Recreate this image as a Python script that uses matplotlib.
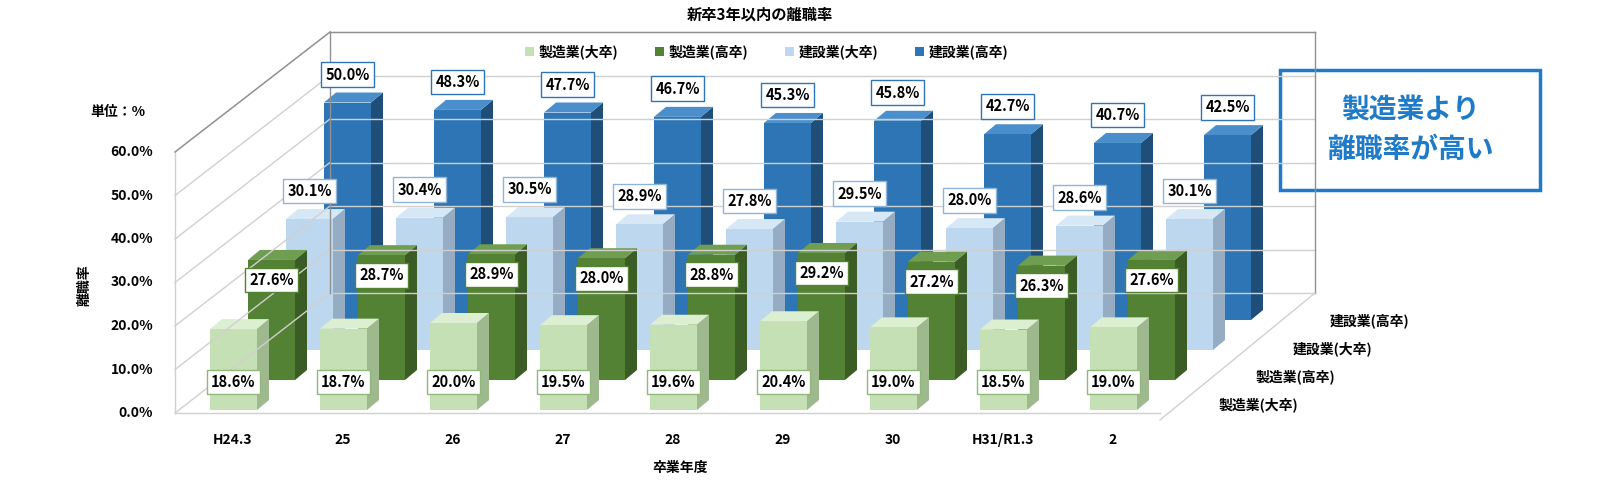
import matplotlib.pyplot as plt
from matplotlib.patches import Polygon, Rectangle

plt.rcParams["font.family"] = "Noto Sans CJK JP"
plt.rcParams["font.weight"] = "bold"

years = ["H24.3", "25", "26", "27", "28", "29", "30", "H31/R1.3", "2"]
series = ["製造業(大卒)", "製造業(高卒)", "建設業(大卒)", "建設業(高卒)"]
mfg_univ = [18.6, 18.7, 20.0, 19.5, 19.6, 20.4, 19.0, 18.5, 19.0]
mfg_high = [27.6, 28.7, 28.9, 28.0, 28.8, 29.2, 27.2, 26.3, 27.6]
con_univ = [30.1, 30.4, 30.5, 28.9, 27.8, 29.5, 28.0, 28.6, 30.1]
con_high = [50.0, 48.3, 47.7, 46.7, 45.3, 45.8, 42.7, 40.7, 42.5]
values = [mfg_univ, mfg_high, con_univ, con_high]

front = ["#c5e0b4", "#548235", "#bdd7ee", "#2e75b6"]
side = ["#9fb98f", "#3b5c25", "#95acc2", "#1f4e79"]
top = ["#dcefd0", "#6f9e50", "#d6e7f6", "#4a8fcc"]
edge = ["#8fb87a", "#548235", "#8fb4d9", "#2e75b6"]

fig = plt.figure(figsize=(16, 4.91), dpi=100)
ax = fig.add_axes([0, 0, 1, 1])
ax.set_xlim(0, 1600)
ax.set_ylim(491, 0)
ax.axis("off")

# pseudo-3D frame
Y0, SC = 413, 4.35          # floor front y, px per %
DX, DY = 155, -120          # full depth offset
X0, X1 = 175, 1160
grid = "#d0d0d0"
for t in range(0, 61, 10):
    yf = Y0 - t * SC
    ax.plot([X0, X0 + DX], [yf, yf + DY], color=grid, lw=1)
    ax.plot([X0 + DX, X1 + DX], [yf + DY, yf + DY], color=grid, lw=1)
    ax.text(X0 - 22, yf, f"{t:.1f}%", ha="right", va="center", fontsize=10)
ax.plot([X0, X0], [Y0, Y0 - 60 * SC], color=grid, lw=1)
ax.plot([X0 + DX, X0 + DX], [Y0 + DY, Y0 + DY - 60 * SC], color="#909090", lw=1)
ax.plot([X1 + DX, X1 + DX], [Y0 + DY, Y0 + DY - 60 * SC], color="#909090", lw=1)
ax.plot([X0 + DX, X1 + DX], [Y0 + DY - 60 * SC] * 2, color="#909090", lw=1)
ax.plot([X0, X0 + DX], [Y0 - 60 * SC, Y0 + DY - 60 * SC], color="#909090", lw=1)
ax.plot([X0, X1], [Y0, Y0], color=grid, lw=1)
ax.plot([X1, X1 + DX], [Y0 + 7, Y0 + DY], color=grid, lw=1)

BW, SD, SU = 47, 12, 10     # bar width, side depth px
RDX, RDY = 38, -30          # row shift
for r in range(3, -1, -1):
    for i, v in enumerate(values[r]):
        xl = 210 + i * 110 + r * RDX
        yb = Y0 - 3 + r * RDY
        yt = yb - v * SC
        ax.add_patch(Polygon([(xl + BW, yb), (xl + BW + SD, yb - SU), (xl + BW + SD, yt - SU), (xl + BW, yt)],
                             closed=True, fc=side[r], ec="none"))
        ax.add_patch(Polygon([(xl, yt), (xl + SD, yt - SU), (xl + BW + SD, yt - SU), (xl + BW, yt)],
                             closed=True, fc=top[r], ec="none"))
        ax.add_patch(Rectangle((xl, yt), BW, yb - yt, fc=front[r], ec="none"))
        cx = xl + BW / 2
        if r == 0:
            ly = yb - 28
        elif r == 1:
            ly = yt + 20
        else:
            ly = yt - 28
        ax.text(cx, ly, f"{v:.1f}%", ha="center", va="center", fontsize=10.5,
                bbox=dict(boxstyle="square,pad=0.3", fc="white", ec=edge[r], lw=1))

for i, y in enumerate(years):
    ax.text(233 + i * 110, 440, y, ha="center", va="center", fontsize=10)
for r, s in enumerate(series):
    ax.text(1258 + r * 37, 405 - r * 28, s, ha="center", va="center", fontsize=10)

# legend
lx = 525
for r, s in enumerate(series):
    ax.add_patch(Rectangle((lx, 47), 9, 9, fc=front[r], ec="none"))
    ax.text(lx + 14, 52, s, ha="left", va="center", fontsize=10)
    lx += 130

ax.text(760, 15, "新卒3年以内の離職率", ha="center", va="center", fontsize=11)
ax.text(118, 112, "単位：%", ha="center", va="center", fontsize=10)
ax.text(85, 285, "離職率", ha="center", va="center", rotation=90, fontsize=10)
ax.text(680, 468, "卒業年度", ha="center", va="center", fontsize=10)

ax.add_patch(Rectangle((1280, 70), 260, 120, fc="white", ec="#1f7bc8", lw=2.5))
ax.text(1410, 130, "製造業より\n離職率が高い", ha="center", va="center", fontsize=20,
        color="#1f7bc8", fontweight="bold", linespacing=1.5)

fig.savefig("out.png", dpi=100)
